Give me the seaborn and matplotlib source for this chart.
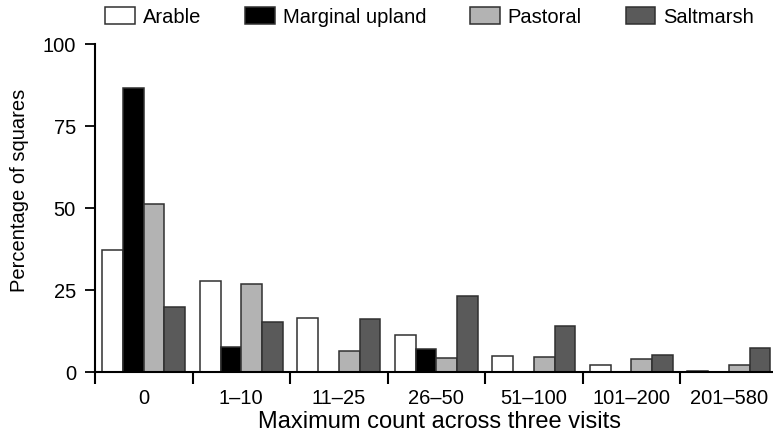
import numpy as np
import pandas as pd
import matplotlib
matplotlib.use("Agg")
import matplotlib.pyplot as plt
import seaborn as sns

categories = ["0", "1–10", "11–25", "26–50", "51–100", "101–200", "201–580"]
habitats = ["Arable", "Marginal upland", "Pastoral", "Saltmarsh"]
arable = [37.2, 27.6, 16.5, 11.4, 5.0, 2.2, 0.4]
marginal = [86.6, 7.5, 0.0, 7.1, 0.0, 0.0, 0.0]
pastoral = [51.2, 26.9, 6.4, 4.4, 4.7, 4.0, 2.2]
saltmarsh = [19.7, 15.1, 16.1, 23.3, 14.0, 5.2, 7.2]
colors = ["#ffffff", "#000000", "#b3b3b3", "#5a5a5a"]
yticks = [0, 25, 50, 75, 100]

series = {"Arable": arable, "Marginal upland": marginal, "Pastoral": pastoral, "Saltmarsh": saltmarsh}
rows = []
for h in habitats:
    for c, v in zip(categories, series[h]):
        rows.append({"count": c, "habitat": h, "pct": v})
df = pd.DataFrame(rows)

sns.set_style("white")
plt.rcParams["font.family"] = ["Liberation Sans", "DejaVu Sans"]
plt.rcParams["text.color"] = "black"
plt.rcParams["axes.labelcolor"] = "black"
plt.rcParams["xtick.color"] = "black"
plt.rcParams["ytick.color"] = "black"

fig = plt.figure(figsize=(7.73, 4.37), dpi=100)
ax = fig.add_axes([95/773, 65/437, 682.6/773, 364/437])

sns.barplot(data=df, x="count", y="pct", hue="habitat", order=categories,
            hue_order=habitats, palette=colors, width=0.85, edgecolor="#303030",
            linewidth=1.1, saturation=1, ax=ax, errorbar=None)

ax.set_xlim(-0.5, len(categories) - 0.5)
ax.set_ylim(0, 111)

for s in ["top", "right"]:
    ax.spines[s].set_visible(False)
for s in ["left", "bottom"]:
    ax.spines[s].set_linewidth(1.5)
    ax.spines[s].set_color("black")
ax.spines["left"].set_bounds(0, 100)

ax.set_yticks(yticks)
ax.set_yticklabels([str(t) for t in yticks])
ax.tick_params(axis="y", length=7.2, width=1.3, pad=6.5, labelsize=14.5, direction="out",
               left=True, colors="black")

idx = np.arange(len(categories))
bounds = np.arange(-0.5, len(categories) + 0.5)
ax.set_xticks(bounds, minor=False)
ax.set_xticklabels([""] * len(bounds), minor=False)
ax.set_xticks(idx, minor=True)
ax.set_xticklabels(categories, minor=True)
ax.tick_params(axis="x", which="major", length=8.6, width=1.5, direction="out", bottom=True,
               colors="black")
ax.tick_params(axis="x", which="minor", length=0, pad=12, labelsize=14.5, colors="black")

ax.set_xlabel("Maximum count across three visits", fontsize=17, color="black")
ax.xaxis.set_label_coords(0.505, -0.106)
ax.set_ylabel("Percentage of squares", fontsize=14.5, color="black")
ax.yaxis.set_label_coords(-0.0967, 0.5)

handles, labels = ax.get_legend_handles_labels()
if ax.get_legend() is not None:
    ax.get_legend().remove()
leg = fig.legend(handles, labels, loc="center", bbox_to_anchor=(0.556, 0.961), ncol=4,
                 frameon=False, fontsize=14.5, handlelength=1.45, handleheight=0.9,
                 handletextpad=0.4, columnspacing=2.2, borderpad=0, borderaxespad=0)
for t in leg.get_texts():
    t.set_color("black")

fig.savefig("out.png", dpi=100)
